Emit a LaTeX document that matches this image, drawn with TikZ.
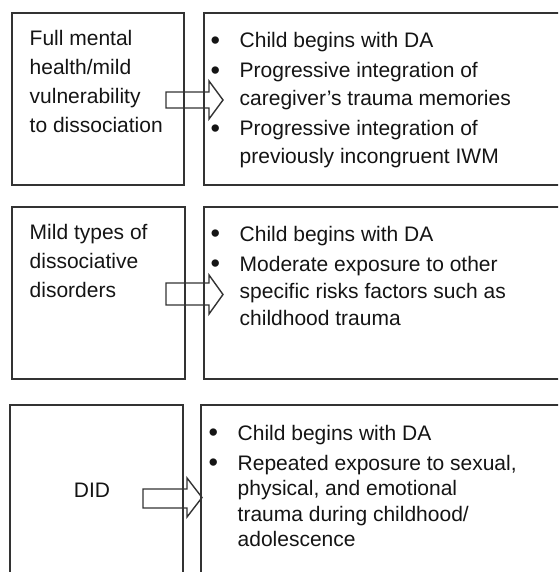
\documentclass[tikz,border=0pt]{standalone}
\usepackage{fontspec}
\setmainfont{Liberation Sans}
\newcommand{\bul}{\raisebox{-1.4pt}{\fontsize{27}{27}\selectfont\textbullet}}
\begin{document}
\begin{tikzpicture}[x=1pt,y=-1pt,line width=1.4pt,color=black!80]
  \clip (0,0) rectangle (558,572);
  \tikzset{lab/.style={anchor=base west,inner sep=0pt,text=black!92}}
  % boxes
  \draw (12,13) rectangle (184,185);
  \draw (204,13) rectangle (590,185);
  \draw (12,207) rectangle (185,379);
  \draw (204,207) rectangle (590,379);
  \draw (10,405) rectangle (183,600);
  \draw (201,405) rectangle (590,600);
  % arrows
  \draw (166,92)--(209,92)--(209,81)--(223,100)--(209,119)--(209,108)--(166,108)--cycle;
  \draw (166,283)--(209,283)--(209,275)--(223,294.5)--(209,314)--(209,305)--(166,305)--cycle;
  \draw (143,489)--(187,489)--(187,478)--(202,497.5)--(187,517)--(187,508)--(143,508)--cycle;
  % texts
  \node [lab] (state1) at (29,46) {\fontsize{21}{29}\selectfont
    \begin{tabular}[t]{@{}l@{}}Full mental\\health/mild\\vulnerability\\to dissociation\end{tabular}};
  \node [lab] (state2) at (29,239) {\fontsize{21}{29}\selectfont
    \begin{tabular}[t]{@{}l@{}}Mild types of\\dissociative\\disorders\end{tabular}};
  \node [anchor=base,inner sep=0pt,text=black!92] (state3) at (92,497) {\fontsize{21}{29}\selectfont DID};
  \node [lab] (path1) at (210,48) {\fontsize{21}{28}\selectfont
    \begin{tabular}[t]{@{}p{29pt}@{}l@{}}
      \bul & Child begins with DA\\[2pt]
      \bul & Progressive integration of\\
           & caregiver's trauma memories\\[2pt]
      \bul & Progressive integration of\\
           & previously incongruent IWM
    \end{tabular}};
  \node [lab] (path2) at (210,241) {\fontsize{21}{27}\selectfont
    \begin{tabular}[t]{@{}p{29pt}@{}l@{}}
      \bul & Child begins with DA\\[3pt]
      \bul & Moderate exposure to other\\
           & specific risks factors such as\\
           & childhood trauma
    \end{tabular}};
  \node [lab] (path3) at (208,440) {\fontsize{21}{25.5}\selectfont
    \begin{tabular}[t]{@{}p{29pt}@{}l@{}}
      \bul & Child begins with DA\\[4.5pt]
      \bul & Repeated exposure to sexual,\\
           & physical, and emotional\\
           & trauma during childhood/\\
           & adolescence
    \end{tabular}};
\end{tikzpicture}
\end{document}
